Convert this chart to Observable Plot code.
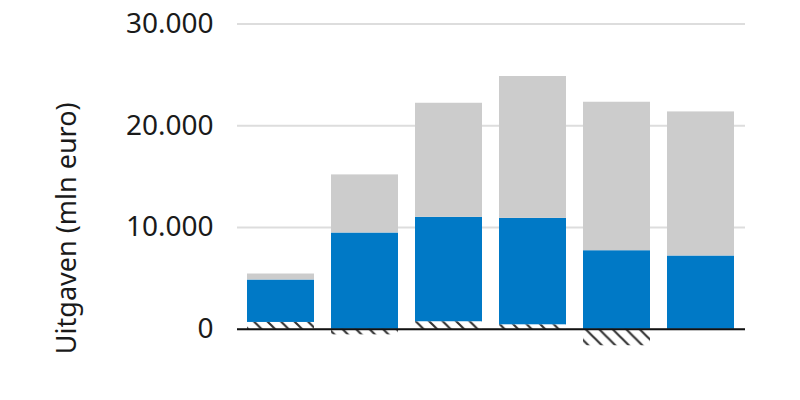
<!DOCTYPE html>
<html>
<head>
<meta charset="utf-8">
<script src="https://cdn.jsdelivr.net/npm/d3@7"></script>
<script src="https://cdn.jsdelivr.net/npm/@observablehq/plot@0.6"></script>
<style>
  html, body { margin: 0; padding: 0; background: #fff; }
  #chart { width: 800px; height: 400px; }
</style>
</head>
<body>
<div id="chart"></div>
<script>
// Categories (no labels shown on the x axis in the reference)
const categories = ["1", "2", "3", "4", "5", "6"];
// Series (segment sizes, mln euro), stacked in this order
const seriesNames = ["Overig", "Blauw", "Grijs"];
const hatchedValues = [670, -550, 740, 440, -1620, 0];
const blueValues = [4170, 9460, 10260, 10460, 7720, 7200];
const greyValues = [590, 5710, 11210, 13940, 14590, 14160];
const yTicks = [0, 10000, 20000, 30000];
const yLabel = "Uitgaven (mln euro)";
const seriesColors = ["url(#hatch)", "#0079c6", "#cccccc"];

const data = [];
categories.forEach((c, i) => {
  data.push({cat: c, series: seriesNames[0], value: hatchedValues[i]});
  data.push({cat: c, series: seriesNames[1], value: blueValues[i]});
  data.push({cat: c, series: seriesNames[2], value: greyValues[i]});
});

const nl = d3.formatLocale({decimal: ",", thousands: ".", grouping: [3], currency: ["€", ""]});
const fmt = nl.format(",d");

const chart = Plot.plot({
  width: 800,
  height: 400,
  marginLeft: 237,
  marginRight: 55,
  marginTop: 23.5,
  marginBottom: 0,
  style: {fontFamily: "'Noto Sans', sans-serif", color: "#1a1a1a", background: "#fff"},
  x: {domain: categories, paddingInner: 0.2, paddingOuter: 0.1, axis: null},
  y: {domain: [-7000, 30000], axis: null},
  color: {type: "ordinal", domain: seriesNames, range: seriesColors},
  marks: [
    Plot.gridY(yTicks, {stroke: "#dddddd", strokeOpacity: 1, strokeWidth: 2}),
    Plot.axisY(yTicks, {tickSize: 0, tickPadding: 24, tickFormat: fmt, fontSize: 28, label: null}),
    Plot.barY(data, Plot.stackY({x: "cat", y: "value", fill: "series", order: null})),
    Plot.ruleY([0], {stroke: "#111", strokeWidth: 2}),
    Plot.text([yLabel], {frameAnchor: "left", rotate: -90, textAnchor: "middle", lineAnchor: "middle", dx: -170, dy: 16, fontSize: 27, fill: "#1a1a1a"})
  ]
});

const svg = d3.select(chart);
const defs = svg.insert("defs", ":first-child");
const pat = defs.append("pattern")
  .attr("id", "hatch")
  .attr("patternUnits", "userSpaceOnUse")
  .attr("width", 13.5)
  .attr("height", 13.5);
pat.append("rect").attr("width", 13.5).attr("height", 13.5).attr("fill", "#fff");
pat.append("path").attr("d", "M-2,-2 L15.5,15.5 M-2,11.5 L2,15.5 M11.5,-2 L15.5,2")
  .attr("stroke", "#333").attr("stroke-width", 2.2);

document.getElementById("chart").appendChild(chart);
</script>
</body>
</html>
